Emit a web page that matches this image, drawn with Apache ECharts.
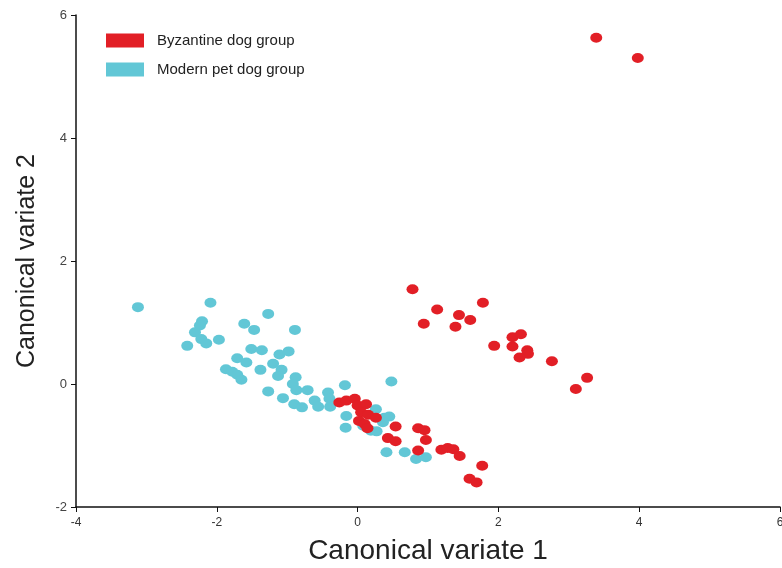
<!DOCTYPE html>
<html>
<head>
<meta charset="utf-8">
<script src="https://cdn.jsdelivr.net/npm/echarts@6/dist/echarts.min.js"></script>
<style>
  html, body { margin: 0; padding: 0; background: #fff; }
  #chart { width: 782px; height: 568px; }
</style>
</head>
<body>
<div id="chart"></div>
<script>
// series names
const groupNames = ['Byzantine dog group', 'Modern pet dog group']

// Byzantine dogs [cv1, cv2]
const byzantine = [
  [3.39, 5.63], [3.98, 5.30],
  [0.78, 1.54], [1.13, 1.21], [0.94, 0.98], [1.44, 1.12], [1.39, 0.93],
  [1.60, 1.04], [1.78, 1.32], [1.94, 0.62], [2.20, 0.76], [2.32, 0.81],
  [2.20, 0.61], [2.41, 0.55], [2.42, 0.49], [2.30, 0.43], [2.76, 0.37],
  [3.26, 0.10], [3.10, -0.08],
  [-0.26, -0.30], [-0.16, -0.27], [-0.04, -0.24], [0.00, -0.35], [0.12, -0.33],
  [0.05, -0.46], [0.15, -0.50], [0.26, -0.55], [0.02, -0.60], [0.10, -0.65],
  [0.14, -0.72], [0.54, -0.69], [0.86, -0.72], [0.95, -0.75], [0.43, -0.88],
  [0.54, -0.93], [0.97, -0.91], [0.86, -1.08], [1.19, -1.07], [1.28, -1.04],
  [1.36, -1.06], [1.45, -1.17], [1.77, -1.33], [1.59, -1.54], [1.69, -1.60]
]

// modern pet dogs [cv1, cv2]
const modern = [
  [-3.12, 1.25], [-2.09, 1.32], [-1.27, 1.14], [-2.21, 1.02], [-2.24, 0.95],
  [-2.31, 0.84], [-2.22, 0.73], [-2.15, 0.66], [-1.97, 0.72], [-2.42, 0.62],
  [-1.61, 0.98], [-1.47, 0.88], [-0.89, 0.88], [-1.51, 0.57], [-1.36, 0.55],
  [-1.11, 0.48], [-0.98, 0.53], [-1.71, 0.42], [-1.58, 0.35], [-1.87, 0.24],
  [-1.78, 0.20], [-1.71, 0.15], [-1.65, 0.07], [-1.38, 0.23], [-1.20, 0.33],
  [-1.08, 0.23], [-1.13, 0.13], [-0.88, 0.11], [-0.92, 0.00], [-0.87, -0.10],
  [-0.71, -0.10], [-1.27, -0.12], [-1.06, -0.23], [-0.90, -0.33], [-0.79, -0.38],
  [-0.61, -0.27], [-0.56, -0.37], [-0.42, -0.14], [-0.40, -0.24], [-0.39, -0.37],
  [-0.18, -0.02], [-0.16, -0.52], [-0.17, -0.71], [0.48, 0.04], [0.26, -0.41],
  [0.38, -0.55], [0.45, -0.53], [0.36, -0.62], [0.19, -0.76], [0.27, -0.77],
  [0.08, -0.68], [0.41, -1.11], [0.67, -1.11], [0.83, -1.22], [0.97, -1.19]
]

const colors = ['#E21F26', '#62C7D6']

const chart = echarts.init(document.getElementById('chart'))

const option = {
  animation: false,
  grid: { left: 76, right: 2, top: 15, bottom: 61, outerBoundsMode: 'none' },
  legend: {
    data: groupNames,
    orient: 'vertical',
    left: 101,
    top: 28,
    icon: 'rect',
    itemWidth: 38,
    itemHeight: 14,
    itemGap: 14,
    textStyle: { fontFamily: 'Liberation Sans', fontSize: 15, color: '#222', padding: [0, 0, 0, 8] }
  },
  xAxis: {
    type: 'value',
    min: -4, max: 6, interval: 2,
    splitLine: { show: false },
    axisLine: { onZero: false, lineStyle: { color: '#111', width: 1.5 } },
    axisTick: { inside: false, length: 5, lineStyle: { color: '#111' } },
    axisLabel: { fontFamily: 'Liberation Sans Narrow, Liberation Sans', fontSize: 12, color: '#333', margin: 10 },
    name: 'Canonical variate 1',
    nameLocation: 'middle',
    nameGap: 30,
    nameTextStyle: { fontFamily: 'Liberation Sans', fontSize: 28, color: '#222' }
  },
  yAxis: {
    type: 'value',
    min: -2, max: 6, interval: 2,
    splitLine: { show: false },
    axisLine: { onZero: false, lineStyle: { color: '#111', width: 1.5 } },
    axisTick: { inside: false, length: 5, lineStyle: { color: '#111' } },
    axisLabel: { fontFamily: 'Liberation Sans', fontSize: 13, color: '#444', margin: 9 },
    name: 'Canonical variate 2',
    nameLocation: 'middle',
    nameGap: 36,
    nameTextStyle: { fontFamily: 'Liberation Sans', fontSize: 25, color: '#222' }
  },
  series: [
    {
      name: groupNames[1],
      type: 'scatter',
      data: modern,
      symbol: 'circle',
      symbolSize: [12, 10],
      itemStyle: { color: colors[1], opacity: 1 },
      z: 2
    },
    {
      name: groupNames[0],
      type: 'scatter',
      data: byzantine,
      symbol: 'circle',
      symbolSize: [12, 10],
      itemStyle: { color: colors[0], opacity: 1 },
      z: 3
    }
  ]
}

chart.setOption(option)
</script>
</body>
</html>
